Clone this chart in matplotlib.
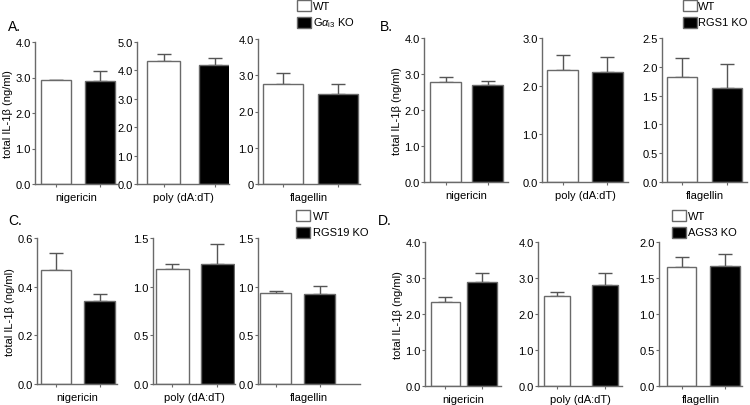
import matplotlib
matplotlib.use("Agg")
import matplotlib.pyplot as plt
from matplotlib.patches import Rectangle

plt.rcParams['font.family'] = ['Liberation Sans', 'DejaVu Sans']
plt.rcParams['mathtext.fontset'] = 'custom'
plt.rcParams['mathtext.rm'] = 'Liberation Sans'
plt.rcParams['mathtext.it'] = 'Liberation Sans:italic'

# ---- data ----
stimuli = ["nigericin", "poly (dA:dT)", "flagellin"]
groups = ["WT", "KO"]
panel_letters = ["A.", "B.", "C.", "D."]
ko_labels = [r"G$\alpha_{\mathrm{i3}}$ KO", "RGS1 KO", "RGS19 KO", "AGS3 KO"]

# means [WT, KO] per stimulus
A_means = [[2.92, 2.90], [4.32, 4.19], [2.76, 2.48]]
A_errs = [[0.0, 0.28], [0.27, 0.26], [0.30, 0.28]]
B_means = [[2.78, 2.69], [2.34, 2.30], [1.83, 1.64]]
B_errs = [[0.14, 0.12], [0.31, 0.30], [0.32, 0.41]]
C_means = [[0.468, 0.341], [1.18, 1.23], [0.93, 0.925]]
C_errs = [[0.071, 0.027], [0.054, 0.21], [0.025, 0.085]]
D_means = [[2.33, 2.88], [2.51, 2.80], [1.65, 1.67]]
D_errs = [[0.15, 0.26], [0.11, 0.34], [0.14, 0.17]]

A_ticks = [[0, 1, 2, 3, 4], [0, 1, 2, 3, 4, 5], [0, 1, 2, 3, 4]]
A_ticklabels = [["0.0", "1.0", "2.0", "3.0", "4.0"],
                ["0.0", "1.0", "2.0", "3.0", "4.0", "5.0"],
                ["0", "1.0", "2.0", "3.0", "4.0"]]
B_ticks = [[0, 1, 2, 3, 4], [0, 1, 2, 3], [0, 0.5, 1, 1.5, 2, 2.5]]
B_ticklabels = [["0.0", "1.0", "2.0", "3.0", "4.0"],
                ["0.0", "1.0", "2.0", "3.0"],
                ["0.0", "0.5", "1.0", "1.5", "2.0", "2.5"]]
C_ticks = [[0, 0.2, 0.4, 0.6], [0, 0.5, 1, 1.5], [0, 0.5, 1, 1.5]]
C_ticklabels = [["0.0", "0.2", "0.4", "0.6"],
                ["0.0", "0.5", "1.0", "1.5"],
                ["0.0", "0.5", "1.0", "1.5"]]
D_ticks = [[0, 1, 2, 3, 4], [0, 1, 2, 3, 4], [0, 0.5, 1, 1.5, 2]]
D_ticklabels = [["0.0", "1.0", "2.0", "3.0", "4.0"],
                ["0.0", "1.0", "2.0", "3.0", "4.0"],
                ["0.0", "0.5", "1.0", "1.5", "2.0"]]

all_means = [A_means, B_means, C_means, D_means]
all_errs = [A_errs, B_errs, C_errs, D_errs]
all_ticks = [A_ticks, B_ticks, C_ticks, D_ticks]
all_ticklabels = [A_ticklabels, B_ticklabels, C_ticklabels, D_ticklabels]

# ---- layout (pixels) ----
W, H = 750, 406
# per axis: (left px, right px, top px, bottom px, xlim)
layout = [
    [(35, 117, 43, 185, (-0.48, 1.39)), (137, 229, 43, 185, (-0.51, 1.26)), (258, 360, 40, 185, (-0.45, 1.39))],
    [(424, 508, 39, 183, (-0.52, 1.48)), (542, 628, 39, 183, (-0.46, 1.46)), (662, 747, 39, 183, (-0.44, 1.44))],
    [(37, 117, 239, 385, (-0.44, 1.40)), (153, 235, 239, 385, (-0.43, 1.39)), (258, 360, 239, 385, (-0.40, 1.92))],
    [(425, 501, 243, 387, (-0.56, 1.52)), (538, 622, 243, 387, (-0.40, 1.35)), (659, 742, 243, 387, (-0.52, 1.39))],
]
bar_widths = [[0.70, 0.62, 0.72], [0.74, 0.69, 0.67], [0.70, 0.72, 0.72], [0.80, 0.55, 0.67]]
letter_pos = [(8, 27), (380, 27), (8, 221), (378, 221)]
legend_pos = [(297, 1, 313), (683, 1, 698), (296, 211, 313), (672, 211, 688)]

edge = '#6a6a6a'
fig = plt.figure(figsize=(W / 100, H / 100), dpi=100)

for p in range(4):
    for s in range(3):
        l, r, t, b, xl = layout[p][s]
        ax = fig.add_axes([l / W, 1 - b / H, (r - l) / W, (b - t) / H])
        m = all_means[p][s]
        e = all_errs[p][s]
        bw = bar_widths[p][s]
        ax.errorbar([0, 1], m, yerr=[[0, 0], e], fmt='none', ecolor='#555555',
                    elinewidth=1.0, capsize=5, capthick=1.0, zorder=1)
        ax.bar([0, 1], m, width=bw, color=['white', 'black'], edgecolor=edge,
               linewidth=1.0, zorder=2)
        ticks = all_ticks[p][s]
        ax.set_ylim(0, ticks[-1])
        ax.set_xlim(*xl)
        ax.set_yticks(ticks)
        ax.set_yticklabels(all_ticklabels[p][s])
        ax.set_xticks([0, 1])
        ax.set_xticklabels([])
        ax.set_xlabel(stimuli[s], fontsize=8, labelpad=0.5)
        for sp in ['top', 'right']:
            ax.spines[sp].set_visible(False)
        for sp in ['left', 'bottom']:
            ax.spines[sp].set_color(edge)
            ax.spines[sp].set_linewidth(1.0)
        ax.spines['left'].set_bounds(0, ticks[-1])
        ax.tick_params(axis='y', length=2, width=0.8, color=edge, labelsize=8, pad=1)
        ax.tick_params(axis='x', length=2, width=0.8, color=edge)
        if s == 0:
            ax.set_ylabel("total IL-1β (ng/ml)", fontsize=8, labelpad=2)

    lx, ly = letter_pos[p]
    fig.text(lx / W, 1 - ly / H, panel_letters[p], fontsize=10, ha='left', va='center')

    bx, by, tx = legend_pos[p]
    for k, (fc, lab) in enumerate([('white', 'WT'), ('black', ko_labels[p])]):
        y0 = by + k * 17
        fig.patches.append(Rectangle((bx / W, 1 - (y0 + 11) / H), 14 / W, 11 / H,
                                     facecolor=fc, edgecolor=edge, linewidth=1.0,
                                     transform=fig.transFigure, figure=fig))
        fig.text(tx / W, 1 - (y0 + 5.5) / H, lab, fontsize=8, ha='left', va='center')

fig.savefig("out.png", dpi=100)
